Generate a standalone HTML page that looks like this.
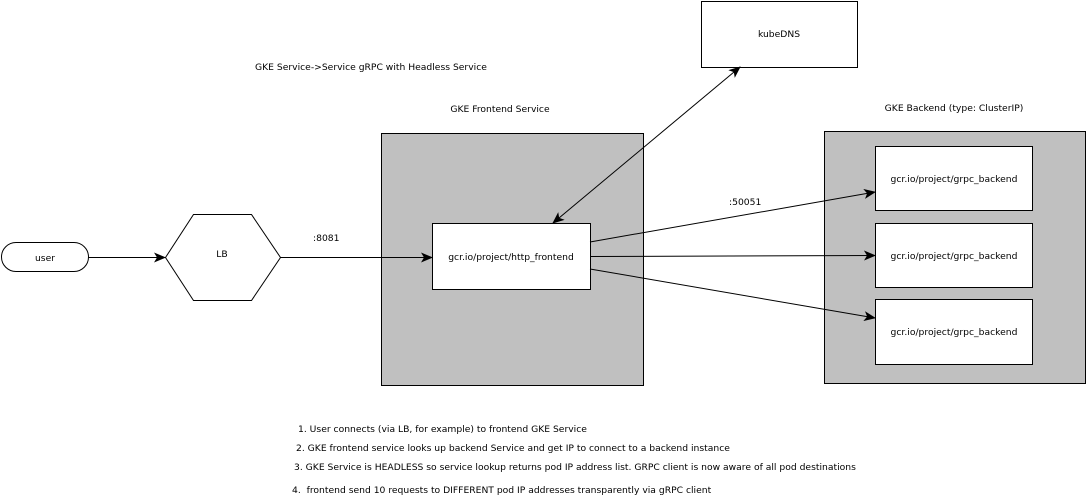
<!DOCTYPE html>
<html><head><style>
html,body{margin:0;padding:0;background:#fff;}
svg text{font-family:"DejaVu Sans","Liberation Sans",sans-serif;font-size:9.2px;fill:#000;}
</style></head><body>
<svg width="1088" height="495" viewBox="0 0 1088 495" xmlns="http://www.w3.org/2000/svg">
<defs>
<marker id="a" markerWidth="12" markerHeight="10" refX="11" refY="5" orient="auto" markerUnits="userSpaceOnUse">
<path d="M0,0 L12,5 L0,10 L3,5 Z" fill="#000"/></marker>
<marker id="b" markerWidth="12" markerHeight="10" refX="1" refY="5" orient="auto" markerUnits="userSpaceOnUse">
<path d="M12,0 L0,5 L12,10 L9,5 Z" fill="#000"/></marker>
</defs>
<rect x="381.5" y="133.5" width="262" height="252" fill="#c0c0c0" stroke="#000"/>
<rect x="824.5" y="131.5" width="261" height="252" fill="#c0c0c0" stroke="#000"/>
<rect x="701.5" y="1.5" width="156" height="66" fill="#fff" stroke="#000"/>
<text x="779" y="37" text-anchor="middle">kubeDNS</text>
<rect x="1.5" y="242.5" width="87" height="29" rx="14.5" fill="#fff" stroke="#000"/>
<text x="45" y="261" text-anchor="middle">user</text>
<polygon points="165.5,257.5 193.5,214.5 251.5,214.5 280.5,257.5 251.5,300.5 193.5,300.5" fill="#fff" stroke="#000"/>
<text x="222" y="257" text-anchor="middle">LB</text>
<rect x="432.5" y="223.5" width="158" height="66" fill="#fff" stroke="#000"/>
<text x="511" y="260" text-anchor="middle">gcr.io/project/http_frontend</text>
<rect x="875.5" y="146.5" width="157" height="64" fill="#fff" stroke="#000"/>
<text x="954" y="182" text-anchor="middle">gcr.io/project/grpc_backend</text>
<rect x="875.5" y="223.5" width="157" height="64" fill="#fff" stroke="#000"/>
<text x="954" y="259" text-anchor="middle">gcr.io/project/grpc_backend</text>
<rect x="875.5" y="299.5" width="157" height="65" fill="#fff" stroke="#000"/>
<text x="954" y="335" text-anchor="middle">gcr.io/project/grpc_backend</text>
<g stroke="#000" stroke-width="1" fill="none">
<line x1="88" y1="257.5" x2="165" y2="257.5" marker-end="url(#a)"/>
<line x1="280" y1="257.5" x2="432" y2="257.5" marker-end="url(#a)"/>
<line x1="590" y1="242" x2="875" y2="192" marker-end="url(#a)"/>
<line x1="590" y1="256.5" x2="875" y2="255.5" marker-end="url(#a)"/>
<line x1="590" y1="269" x2="875" y2="318" marker-end="url(#a)"/>
<line x1="553" y1="223" x2="740" y2="67" marker-start="url(#b)" marker-end="url(#a)"/>
</g>
<text x="255" y="70">GKE Service-&gt;Service gRPC with Headless Service</text>
<text x="500" y="112" text-anchor="middle">GKE Frontend Service</text>
<text x="954" y="111" text-anchor="middle">GKE Backend (type: ClusterIP)</text>
<text x="313" y="241">:8081</text>
<text x="729" y="205">:50051</text>
<text x="298" y="432">1. User connects (via LB, for example) to frontend GKE Service</text>
<text x="296" y="451">2. GKE frontend service looks up backend Service and get IP to connect to a backend instance</text>
<text x="294" y="470">3. GKE Service is HEADLESS so service lookup returns pod IP address list. GRPC client is now aware of all pod destinations</text>
<text x="292" y="493">4.&#160; frontend send 10 requests to DIFFERENT pod IP addresses transparently via gRPC client</text>
</svg>
</body></html>
